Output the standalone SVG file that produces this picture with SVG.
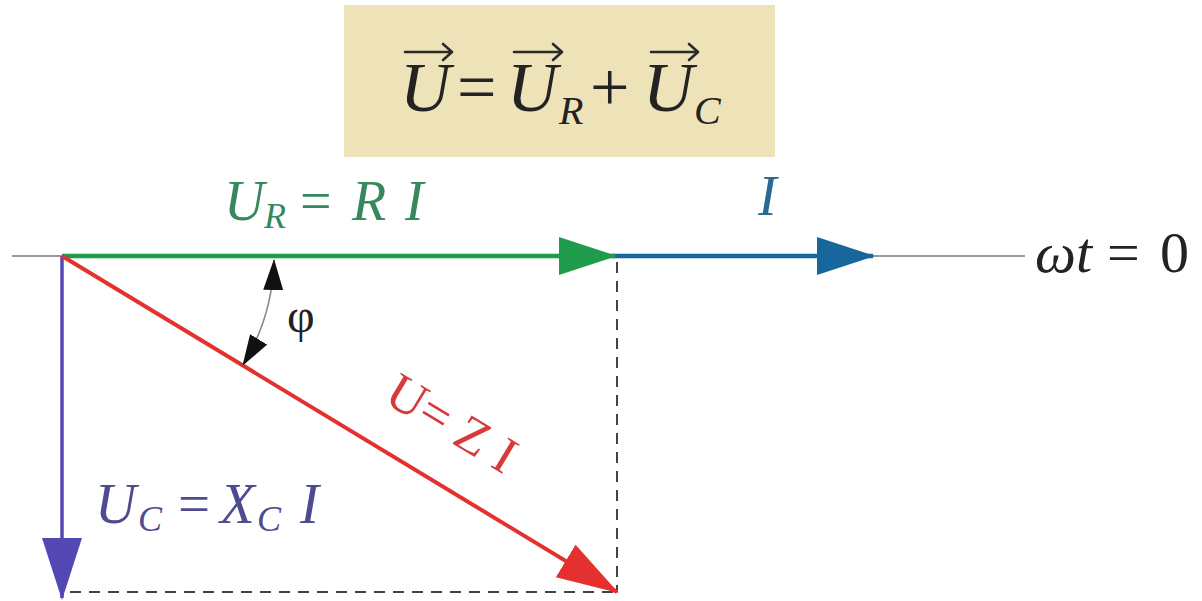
<svg xmlns="http://www.w3.org/2000/svg" width="1202" height="601" viewBox="0 0 1202 601">
<style>
  .serif { font-family: "Liberation Serif", "DejaVu Serif", serif; }
  .it { font-style: italic; }
  .eq { fill: #232323; }
  .green { fill: #36895c; }
  .blue { fill: #2a6a90; }
  .red { fill: #d63a3a; }
  .purple { fill: #4e4b90; }
  .vec { stroke: #2a2a2a; stroke-width: 2.6; fill: none; stroke-linecap: round; stroke-linejoin: round; }
  .axis { stroke: #9a9a9a; stroke-width: 2; }
  .dash { stroke: #444; stroke-width: 2; stroke-dasharray: 11 8; fill: none; }
</style>
<defs>
  <marker id="ahG" markerUnits="userSpaceOnUse" viewBox="0 0 58 38" markerWidth="58" markerHeight="38" refX="56" refY="19" orient="auto"><path d="M0,0 L58,19 L0,38 z" fill="#1e9b4b"/></marker>
  <marker id="ahB" markerUnits="userSpaceOnUse" viewBox="0 0 58 38" markerWidth="58" markerHeight="38" refX="56" refY="19" orient="auto"><path d="M0,0 L58,19 L0,38 z" fill="#17679c"/></marker>
  <marker id="ahR" markerUnits="userSpaceOnUse" viewBox="0 0 62 38" markerWidth="62" markerHeight="38" refX="60" refY="19" orient="auto"><path d="M0,0 L62,19 L0,38 z" fill="#e4312f"/></marker>
  <marker id="ahP" markerUnits="userSpaceOnUse" viewBox="0 0 62 40" markerWidth="62" markerHeight="40" refX="60" refY="20" orient="auto"><path d="M0,0 L62,20 L0,40 z" fill="#5247b3"/></marker>
  <marker id="ahK" markerUnits="userSpaceOnUse" viewBox="0 0 31 20" markerWidth="31" markerHeight="20" refX="30" refY="10" orient="auto-start-reverse"><path d="M0,0 L31,10 L0,20 z" fill="#111"/></marker>
</defs>

<g id="formula">
  <rect x="344" y="5" width="431" height="152" fill="#eee2b9"/>
  <text class="serif eq" font-size="70" y="111"><tspan class="it" x="400">U</tspan><tspan x="457">=</tspan><tspan class="it" x="507">U</tspan><tspan x="590">+</tspan><tspan class="it" x="643">U</tspan></text>
  <text class="serif eq it" font-size="40" y="124"><tspan x="559">R</tspan><tspan x="694">C</tspan></text>
  <path class="vec" d="M405,52 H452 M443,44 L452,52 L443,60"/>
  <path class="vec" d="M514,52 H562 M553,44 L562,52 L553,60"/>
  <path class="vec" d="M651,52 H698 M689,44 L698,52 L689,60"/>
</g>

<g id="connectors">
  <line class="axis" x1="12" y1="256" x2="62" y2="256"/>
  <line class="axis" x1="870" y1="256" x2="1025" y2="256"/>
  <path class="dash" d="M617,262 V592 M70,592 H617"/>
  <line id="vec-I" x1="612" y1="256" x2="873" y2="256" stroke="#17679c" stroke-width="4.5" marker-end="url(#ahB)"/>
  <line id="vec-UR" x1="62" y1="256" x2="615" y2="256" stroke="#1e9b4b" stroke-width="4.5" marker-end="url(#ahG)"/>
  <line id="vec-UC" x1="62" y1="256" x2="62" y2="598" stroke="#5247b3" stroke-width="3.5" marker-end="url(#ahP)"/>
  <line id="vec-U" x1="62" y1="256" x2="617" y2="592" stroke="#e4312f" stroke-width="4" marker-end="url(#ahR)"/>
  <path id="phi-arc" d="M274,260 A212,212 0 0 1 243,365" fill="none" stroke="#8a8a8a" stroke-width="1.6" marker-start="url(#ahK)" marker-end="url(#ahK)"/>
</g>

<g id="label-UR">
  <text class="serif it green" font-size="56" y="220"><tspan x="224">U</tspan><tspan x="300" font-style="normal">=</tspan><tspan x="352">R</tspan><tspan x="405">I</tspan></text>
  <text class="serif it green" font-size="36" x="264" y="228">R</text>
</g>
<g id="label-I">
  <text class="serif it blue" font-size="56" x="758" y="215">I</text>
</g>
<g id="label-wt">
  <text class="serif eq" font-size="58" y="272"><tspan class="it" x="1035">ωt</tspan><tspan x="1107">=</tspan><tspan x="1160">0</tspan></text>
</g>
<g id="label-phi">
  <text class="serif eq" font-size="48" x="287" y="332">φ</text>
</g>
<g id="label-U">
  <text class="serif red" font-size="52" x="443" y="438" text-anchor="middle" transform="rotate(31.2 443 438)">U= Z I</text>
</g>
<g id="label-UC">
  <text class="serif it purple" font-size="57" y="523"><tspan x="95">U</tspan><tspan x="178" font-style="normal">=</tspan><tspan x="220">X</tspan><tspan x="300">I</tspan></text>
  <text class="serif it purple" font-size="36" y="531"><tspan x="138">C</tspan><tspan x="257">C</tspan></text>
</g>
</svg>
